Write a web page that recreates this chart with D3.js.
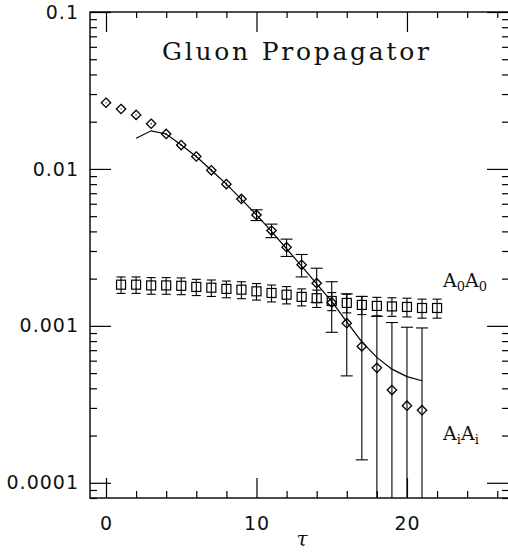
<!DOCTYPE html>
<html>
<head>
<meta charset="utf-8">
<script src="https://cdn.jsdelivr.net/npm/d3@7/dist/d3.min.js"></script>
<style>
  html, body { margin: 0; padding: 0; background: #fff; }
  svg { display: block; }
</style>
</head>
<body>
<svg id="chart" width="508" height="554"></svg>
<script>
// Euclidean time slices
const diamondTau = [0, 1, 2, 3, 4, 5, 6, 7, 8, 9, 10, 11, 12, 13, 14, 15, 16, 17, 18, 19, 20, 21];
// A_i A_i correlator (diamonds)
const diamondValues = [0.0264, 0.0241, 0.0221, 0.0194, 0.0167, 0.0142, 0.0120, 0.0098, 0.0080, 0.00644, 0.00509,
  0.00405, 0.00317, 0.00245, 0.00187, 0.00141, 0.00104, 0.00074, 0.00054, 0.00039, 0.00031, 0.00029];
const diamondErrUp = [0.0002, 0.0002, 0.0002, 0.0002, 0.0002, 0.0002, 0.0002, 0.0002, 0.0002, 0.0003, 0.0004,
  0.0004, 0.0004, 0.0004, 0.00046, 0.0005, 0.00056, 0.0008, 0.00061, 0.00066, 0.00067, 0.00068];
const diamondErrDown = [0.0002, 0.0002, 0.0002, 0.0002, 0.0002, 0.0002, 0.0002, 0.0002, 0.0002, 0.0003, 0.0004,
  0.0004, 0.0004, 0.0004, 0.00046, 0.0005, 0.00056, 0.0006, 0.00061, 0.00066, 0.00067, 0.00068];

// A_0 A_0 correlator (squares)
const squareTau = [1, 2, 3, 4, 5, 6, 7, 8, 9, 10, 11, 12, 13, 14, 15, 16, 17, 18, 19, 20, 21, 22];
const squareValues = [0.00183, 0.00183, 0.00181, 0.00181, 0.00180, 0.00177, 0.00175, 0.00172, 0.00170, 0.00166,
  0.00162, 0.00158, 0.00153, 0.00150, 0.00144, 0.00140, 0.00136, 0.00134, 0.00133, 0.00132, 0.00130, 0.00130];
const squareErr = [0.00022, 0.00022, 0.00022, 0.00022, 0.00022, 0.00021, 0.00021, 0.00021, 0.00021, 0.00020,
  0.00020, 0.00020, 0.00019, 0.00019, 0.00019, 0.00019, 0.00018, 0.00018, 0.00018, 0.00018, 0.00018, 0.00018];

// Fitted curve for A_i A_i
const fitTau = [2, 3, 4, 5, 6, 7, 8, 9, 10, 11, 12, 13, 14, 15, 16, 17, 18, 19, 20, 21];
const fitValues = [0.0157, 0.0175, 0.0167, 0.0142, 0.0120, 0.0098, 0.0080, 0.0064, 0.0051, 0.0040, 0.0031,
  0.00240, 0.00185, 0.00143, 0.00106, 0.00079, 0.00063, 0.00053, 0.000475, 0.000447];

// Axis ticks
const xMajorTicks = [0, 10, 20];
const xMinorTicks = [2, 4, 6, 8, 12, 14, 16, 18, 22, 24, 26];
const yMajorTicks = [0.1, 0.01, 0.001, 0.0001];
const yTickLabels = ["0.1", "0.01", "0.001", "0.0001"];

const title = "Gluon Propagator";
const xTitle = "τ";

// ---- layout ----
const frame = { left: 90, right: 509, top: 12, bottom: 498 };
const svg = d3.select("#chart");

const x = d3.scaleLinear()
  .domain([-1.063, 26.78])
  .range([frame.left, frame.right]);
const y = d3.scaleLog()
  .domain([8.0e-5, 0.1])
  .range([frame.bottom, frame.top]);

// minor log ticks: 2..9 in every decade inside the domain
const yMinorTicks = [];
[1e-5, 1e-4, 1e-3, 1e-2].forEach(dec => {
  for (let k = 2; k <= 9; k++) {
    const v = k * dec;
    if (v >= y.domain()[0] && v < y.domain()[1]) yMinorTicks.push(v);
  }
});

const tickFont = "'DejaVu Sans', sans-serif";
const serifFont = "'DejaVu Serif', serif";

svg.append("rect").attr("width", 508).attr("height", 554).attr("fill", "#fff");

function styleAxis(g) {
  g.select(".domain").remove();
  g.selectAll(".tick line").attr("stroke", "#000").attr("stroke-width", 1.2);
  g.selectAll(".tick text")
    .attr("fill", "#111")
    .style("font-family", tickFont)
    .style("font-size", "19px")
    .style("letter-spacing", "1px");
}

// bottom axis
svg.append("g").attr("transform", `translate(0,${frame.bottom})`)
  .call(d3.axisBottom(x).tickValues(xMinorTicks).tickSize(-7).tickFormat(""))
  .call(styleAxis);
svg.append("g").attr("transform", `translate(0,${frame.bottom})`)
  .call(d3.axisBottom(x).tickValues(xMajorTicks).tickSize(-20).tickPadding(19).tickFormat(d3.format("d")))
  .call(styleAxis);

// top axis
svg.append("g").attr("transform", `translate(0,${frame.top})`)
  .call(d3.axisTop(x).tickValues(xMinorTicks).tickSize(-6).tickFormat(""))
  .call(styleAxis);
svg.append("g").attr("transform", `translate(0,${frame.top})`)
  .call(d3.axisTop(x).tickValues(xMajorTicks).tickSize(-20).tickFormat(""))
  .call(styleAxis);

// left axis
svg.append("g").attr("transform", `translate(${frame.left},0)`)
  .call(d3.axisLeft(y).tickValues(yMinorTicks).tickSize(-7).tickFormat(""))
  .call(styleAxis);
svg.append("g").attr("transform", `translate(${frame.left},0)`)
  .call(d3.axisLeft(y).tickValues(yMajorTicks).tickSize(-21).tickPadding(11)
    .tickFormat((d, i) => yTickLabels[i]))
  .call(styleAxis);

// right axis
svg.append("g").attr("transform", `translate(${frame.right},0)`)
  .call(d3.axisRight(y).tickValues(yMinorTicks).tickSize(-7).tickFormat(""))
  .call(styleAxis);
svg.append("g").attr("transform", `translate(${frame.right},0)`)
  .call(d3.axisRight(y).tickValues(yMajorTicks).tickSize(-22).tickFormat(""))
  .call(styleAxis);

// frame
svg.append("rect")
  .attr("x", frame.left).attr("y", frame.top)
  .attr("width", frame.right - frame.left).attr("height", frame.bottom - frame.top)
  .attr("fill", "none").attr("stroke", "#000").attr("stroke-width", 1.4);

// plotting area with clipping
svg.append("clipPath").attr("id", "plot-clip")
  .append("rect")
  .attr("x", frame.left).attr("y", frame.top)
  .attr("width", frame.right - frame.left).attr("height", frame.bottom - frame.top);
const plot = svg.append("g").attr("clip-path", "url(#plot-clip)");

// fitted curve
const fitData = fitTau.map((t, i) => ({ t, v: fitValues[i] }));
plot.append("path")
  .datum(fitData)
  .attr("fill", "none")
  .attr("stroke", "#000")
  .attr("stroke-width", 1.2)
  .attr("d", d3.line().x(d => x(d.t)).y(d => y(d.v)));

// error bars: vertical line, with caps only where the bar leaves the marker
function drawErrorBars(data, capHalf, markerHalf) {
  const g = plot.append("g").attr("stroke", "#000").attr("stroke-width", 1.1).attr("fill", "none");
  data.forEach(d => {
    const cx = x(d.t);
    const yHi = y(d.v + d.up);
    const lo = d.v - d.down;
    const yLo = lo > 0 ? y(lo) : frame.bottom + 5;
    g.append("line").attr("x1", cx).attr("x2", cx).attr("y1", yHi).attr("y2", yLo);
    const cy = y(d.v);
    if (cy - yHi > markerHalf) {
      g.append("line").attr("x1", cx - capHalf).attr("x2", cx + capHalf).attr("y1", yHi).attr("y2", yHi);
    }
    if (yLo - cy > markerHalf && lo > 0) {
      g.append("line").attr("x1", cx - capHalf).attr("x2", cx + capHalf).attr("y1", yLo).attr("y2", yLo);
    }
  });
}

const diamondData = diamondTau.map((t, i) => ({
  t, v: diamondValues[i], up: diamondErrUp[i], down: diamondErrDown[i]
}));
const squareData = squareTau.map((t, i) => ({
  t, v: squareValues[i], up: squareErr[i], down: squareErr[i]
}));

drawErrorBars(squareData, 4.5, 4.5);
drawErrorBars(diamondData, 6, 5);

// square markers
plot.append("g").selectAll("rect")
  .data(squareData)
  .join("rect")
  .attr("x", d => x(d.t) - 4.5)
  .attr("y", d => y(d.v) - 4.5)
  .attr("width", 9).attr("height", 9)
  .attr("fill", "none").attr("stroke", "#000").attr("stroke-width", 1.2);

// diamond markers
const diamondSymbol = d3.symbol().type(d3.symbolDiamond2).size(56);
plot.append("g").selectAll("path")
  .data(diamondData)
  .join("path")
  .attr("transform", d => `translate(${x(d.t)},${y(d.v)})`)
  .attr("d", diamondSymbol)
  .attr("fill", "none").attr("stroke", "#000").attr("stroke-width", 1.3);

// title
svg.append("text")
  .attr("x", 162).attr("y", 60)
  .attr("textLength", 267).attr("lengthAdjust", "spacing")
  .style("font-family", serifFont)
  .style("font-size", "25px")
  .attr("fill", "#111")
  .text(title);

// series labels with subscripts
function seriesLabel(xPos, yPos, sub) {
  const t = svg.append("text")
    .attr("x", xPos).attr("y", yPos)
    .style("font-family", serifFont)
    .style("font-size", "19px")
    .attr("fill", "#111");
  t.append("tspan").text("A");
  t.append("tspan").attr("dy", 4).style("font-size", "13px").text(sub);
  t.append("tspan").attr("dy", -4).text("A");
  t.append("tspan").attr("dy", 4).style("font-size", "13px").text(sub);
}
seriesLabel(443, 287, "0");
seriesLabel(443, 440, "i");

// x axis title
svg.append("text")
  .attr("x", 302).attr("y", 546)
  .attr("text-anchor", "middle")
  .style("font-family", serifFont)
  .style("font-style", "italic")
  .style("font-size", "20px")
  .attr("fill", "#111")
  .text(xTitle);
</script>
</body>
</html>
